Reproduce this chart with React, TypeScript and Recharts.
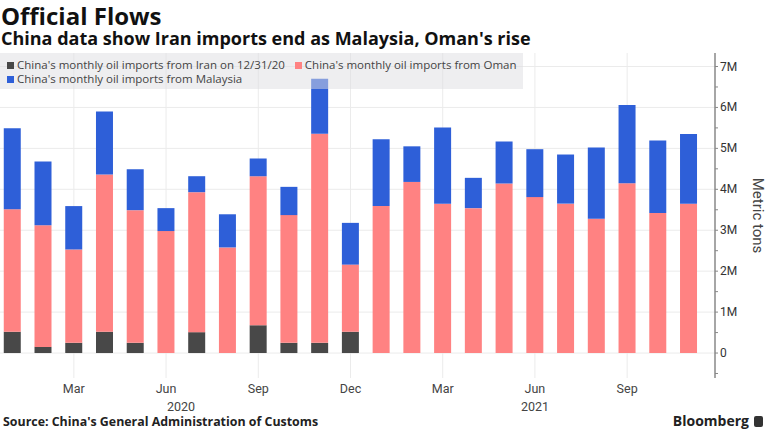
import { BarChart, Bar, XAxis, YAxis, CartesianGrid } from 'recharts'

const months = [
  '2020-01', '2020-02', '2020-03', '2020-04', '2020-05', '2020-06',
  '2020-07', '2020-08', '2020-09', '2020-10', '2020-11', '2020-12',
  '2021-01', '2021-02', '2021-03', '2021-04', '2021-05', '2021-06',
  '2021-07', '2021-08', '2021-09', '2021-10', '2021-11',
]

// million metric tons
const iranImports = [0.52, 0.15, 0.25, 0.52, 0.25, 0, 0.51, 0, 0.68, 0.25, 0.25, 0.52, 0, 0, 0, 0, 0, 0, 0, 0, 0, 0, 0]
const omanImports = [2.99, 2.97, 2.28, 3.84, 3.24, 2.98, 3.42, 2.58, 3.64, 3.12, 5.11, 1.64, 3.59, 4.18, 3.65, 3.54, 4.14, 3.81, 3.65, 3.28, 4.15, 3.42, 3.65]
const malaysiaImports = [1.98, 1.56, 1.06, 1.54, 1.0, 0.56, 0.39, 0.81, 0.43, 0.69, 1.34, 1.02, 1.63, 0.87, 1.86, 0.74, 1.03, 1.17, 1.2, 1.74, 1.91, 1.77, 1.7]

const monthTicks = ['2020-03', '2020-06', '2020-09', '2020-12', '2021-03', '2021-06', '2021-09']
const monthNames = ['Jan', 'Feb', 'Mar', 'Apr', 'May', 'Jun', 'Jul', 'Aug', 'Sep', 'Oct', 'Nov', 'Dec']
const yearLabels = [
  { month: '2020-06', text: '2020', shift: 15 },
  { month: '2021-06', text: '2021', shift: 0 },
]
const yTicks = [-0.5, 0, 0.5, 1, 1.5, 2, 2.5, 3, 3.5, 4, 4.5, 5, 5.5, 6, 6.5, 7]
const gridValues = [0, 1, 2, 3, 4, 5, 6, 7]

const series = [
  { key: 'iran', name: "China's monthly oil imports from Iran on 12/31/20", color: '#484848' },
  { key: 'oman', name: "China's monthly oil imports from Oman", color: '#ff8282' },
  { key: 'malaysia', name: "China's monthly oil imports from Malaysia", color: '#2e5fd8' },
]

const data = months.map((m, i) => ({
  month: m,
  iran: iranImports[i],
  oman: omanImports[i],
  malaysia: malaysiaImports[i],
}))

const font = 'Roboto, "Noto Sans", sans-serif'
const textFont = '"Open Sans", "Noto Sans", sans-serif'

function MonthTick(props: any) {
  const { x, y, payload } = props
  const value: string = payload.value
  if (!monthTicks.includes(value)) return null
  const label = monthNames[Number(value.slice(5)) - 1]
  const year = yearLabels.find(l => l.month === value)
  return (
    <g>
      <text x={x} y={y + 15} textAnchor="middle" fill="#444" fontSize={12.5} fontFamily={font}>{label}</text>
      {year && (
        <text x={x + year.shift} y={y + 33} textAnchor="middle" fill="#444" fontSize={12.5} fontFamily={font}>{year.text}</text>
      )}
    </g>
  )
}

function ValueTick(props: any) {
  const { x, y, payload } = props
  const v: number = payload.value
  const major = Number.isInteger(v)
  return (
    <g>
      <line x1={x} x2={x + 3} y1={y} y2={y} stroke="#888" />
      {major && (
        <text x={x + 5} y={y + 4} fill="#333" fontSize={12} fontFamily={font}>{v === 0 ? '0' : `${v}M`}</text>
      )}
    </g>
  )
}

function AxisTitle(props: any) {
  const vb = props.viewBox
  const cx = vb.x + 42
  const cy = vb.y + vb.height / 2
  return (
    <text x={cx} y={cy} transform={`rotate(90 ${cx} ${cy})`} textAnchor="middle" dominantBaseline="middle" fill="#444" fontSize={15} fontFamily={font}>
      Metric tons
    </text>
  )
}

export default function App() {
  return (
    <div style={{ position: 'absolute', left: 0, top: 0, width: 768, height: 431, overflow: 'hidden', background: '#fff', fontFamily: textFont }}>
      <div style={{ position: 'absolute', left: 1, top: 4, fontSize: 24, fontWeight: 700, color: '#111', lineHeight: '24px', whiteSpace: 'nowrap' }}>
        Official Flows
      </div>
      <div style={{ position: 'absolute', left: 1, top: 29, fontSize: 18, fontWeight: 700, color: '#111', lineHeight: '18px', whiteSpace: 'nowrap' }}>
        China data show Iran imports end as Malaysia, Oman's rise
      </div>

      <div style={{ position: 'absolute', left: -3, top: 0 }}>
        <BarChart width={771} height={431} data={data} margin={{ top: 53, right: 0, bottom: 0, left: 0 }} barCategoryGap="22%">
          <CartesianGrid stroke="#ebebeb" horizontalValues={gridValues} verticalValues={monthTicks} />
          <XAxis
            dataKey="month"
            interval={0}
            axisLine={false}
            tickLine={false}
            tickSize={0}
            tickMargin={0}
            height={53}
            padding={{ left: 0, right: 11 }}
            tick={<MonthTick />}
          />
          <YAxis
            orientation="right"
            width={53}
            domain={[-0.61, 7.33]}
            allowDataOverflow
            ticks={yTicks}
            interval={0}
            tickLine={false}
            tickSize={0}
            tickMargin={0}
            axisLine={{ stroke: '#888', strokeWidth: 1.5 }}
            tick={<ValueTick />}
            label={{ content: <AxisTitle /> }}
          />
          {series.map(s => (
            <Bar key={s.key} dataKey={s.key} name={s.name} stackId="a" fill={s.color} isAnimationActive={false} />
          ))}
        </BarChart>
      </div>

      <div style={{ position: 'absolute', left: 0, top: 53, width: 523, height: 36, background: 'rgba(222,222,226,0.5)', boxSizing: 'border-box', padding: '5px 0 0 7px', fontSize: 11.5, color: '#444', lineHeight: '14px' }}>
        <div style={{ display: 'flex', height: 14, alignItems: 'center', whiteSpace: 'nowrap' }}>
          {series.slice(0, 2).map(s => (
            <span key={s.key} style={{ display: 'flex', alignItems: 'center', marginRight: 10 }}>
              <span style={{ width: 7, height: 7, background: s.color, marginRight: 3 }} />
              {s.name}
            </span>
          ))}
        </div>
        <div style={{ display: 'flex', height: 14, alignItems: 'center', whiteSpace: 'nowrap' }}>
          {series.slice(2).map(s => (
            <span key={s.key} style={{ display: 'flex', alignItems: 'center' }}>
              <span style={{ width: 7, height: 7, background: s.color, marginRight: 3 }} />
              {s.name}
            </span>
          ))}
        </div>
      </div>

      <div style={{ position: 'absolute', left: 3, top: 414, fontSize: 12.4, fontWeight: 700, color: '#222', whiteSpace: 'nowrap', lineHeight: '16px' }}>
        Source: China's General Administration of Customs
      </div>
      <div style={{ position: 'absolute', right: 5, top: 412, display: 'flex', alignItems: 'center', fontSize: 14, fontWeight: 700, color: '#222', lineHeight: '18px' }}>
        Bloomberg
        <span style={{ display: 'inline-block', width: 9, height: 11, background: '#333', borderRadius: 2, marginLeft: 5 }} />
      </div>
    </div>
  )
}
